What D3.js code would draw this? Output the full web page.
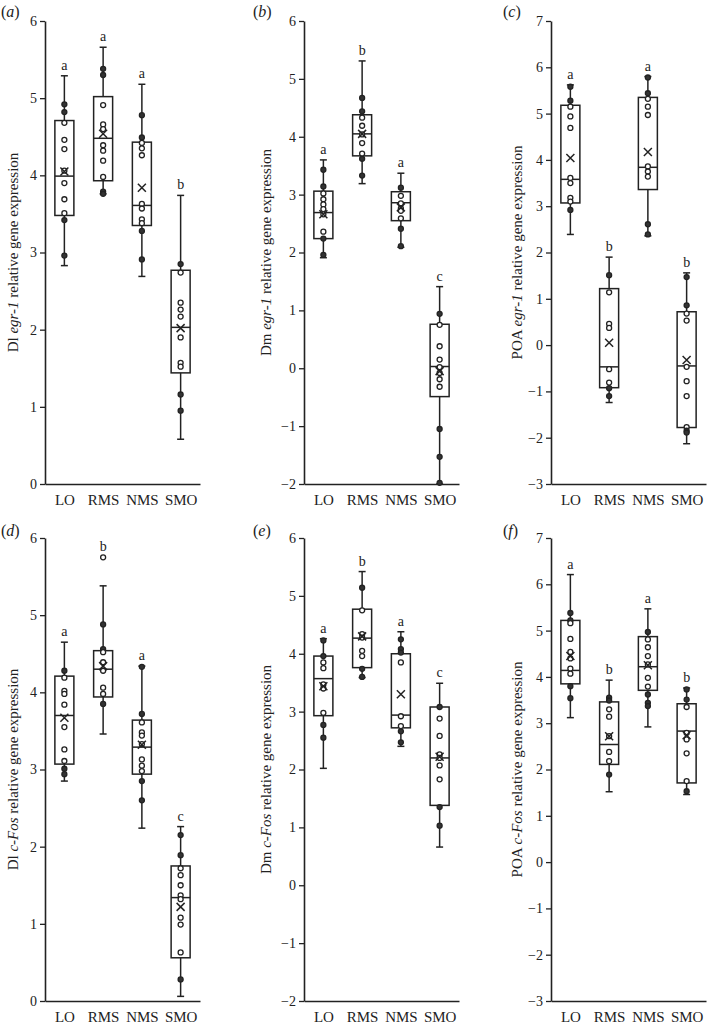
<!DOCTYPE html>
<html>
<head>
<meta charset="utf-8">
<script src="https://cdn.jsdelivr.net/npm/d3@7"></script>
<style>
  body { margin: 0; background: #fff; }
  text { font-family: "Liberation Serif", "Times New Roman", serif; fill: #222; }
</style>
</head>
<body>
<div id="chart"></div>
<script>
// groups on the x axis
const groups = ["LO", "RMS", "NMS", "SMO"];

// one entry per panel (a)-(f)
const panelTags = ["a", "b", "c", "d", "e", "f"];
const regions = ["Dl", "Dm", "POA", "Dl", "Dm", "POA"];
const genes = ["egr-1", "egr-1", "egr-1", "c-Fos", "c-Fos", "c-Fos"];
const yDomains = [[0, 6], [-2, 6], [-3, 7], [0, 6], [-2, 6], [-3, 7]];
const letters = [
  ["a", "a", "a", "b"],
  ["a", "b", "a", "c"],
  ["a", "b", "a", "b"],
  ["a", "b", "a", "c"],
  ["a", "b", "a", "c"],
  ["a", "b", "a", "b"]
];

// box statistics, [panel][group]
const whiskerLow = [
  [2.83, 3.76, 2.69, 0.58],
  [1.91, 3.19, 2.09, -2.0],
  [2.39, -1.24, 2.36, -2.13],
  [2.85, 3.46, 2.24, 0.06],
  [2.02, 3.59, 2.40, 0.66],
  [3.12, 1.52, 2.92, 1.46]
];
const q1 = [
  [3.48, 3.93, 3.35, 1.44],
  [2.24, 3.67, 2.55, -0.49],
  [3.07, -0.92, 3.36, -1.78],
  [3.07, 3.94, 2.94, 0.56],
  [2.93, 3.76, 2.72, 1.38],
  [3.85, 2.11, 3.71, 1.71]
];
const medians = [
  [3.99, 4.48, 3.61, 2.03],
  [2.69, 4.05, 2.86, 0.03],
  [3.58, -0.47, 3.84, -0.45],
  [3.70, 4.30, 3.29, 1.34],
  [3.57, 4.27, 2.94, 2.20],
  [4.14, 2.54, 4.22, 2.83]
];
const q3 = [
  [4.71, 5.02, 4.43, 2.77],
  [3.06, 4.38, 3.05, 0.76],
  [5.18, 1.22, 5.35, 0.72],
  [4.21, 4.54, 3.64, 1.75],
  [3.96, 4.77, 4.00, 3.08],
  [5.22, 3.46, 4.87, 3.42]
];
const whiskerHigh = [
  [5.29, 5.66, 5.18, 3.74],
  [3.60, 5.31, 3.37, 1.41],
  [5.62, 1.90, 5.80, 1.56],
  [4.65, 5.38, 4.34, 2.26],
  [4.26, 5.42, 4.38, 3.49],
  [6.21, 3.93, 5.47, 3.76]
];
const means = [
  [4.05, 4.54, 3.84, 2.02],
  [2.66, 4.05, 2.78, -0.05],
  [4.04, 0.05, 4.17, -0.32],
  [3.67, 4.34, 3.32, 1.22],
  [3.44, 4.30, 3.30, 2.22],
  [4.45, 2.72, 4.25, 2.74]
];
const points = [
  [
    [4.92, 4.82, 4.68, 4.46, 4.34, 4.06, 3.90, 3.69, 3.51, 3.42, 2.96],
    [5.38, 5.30, 4.91, 4.66, 4.60, 4.39, 4.32, 4.19, 3.98, 3.79, 3.76],
    [4.78, 4.49, 4.42, 4.35, 4.26, 3.63, 3.57, 3.43, 3.38, 3.28, 2.91],
    [2.85, 2.74, 2.35, 2.26, 2.17, 1.90, 1.57, 1.52, 1.16, 0.95]
  ],
  [
    [3.43, 3.14, 3.02, 2.92, 2.83, 2.75, 2.66, 2.36, 2.24, 1.96],
    [4.67, 4.44, 4.33, 4.19, 4.04, 3.89, 3.71, 3.62, 3.33],
    [3.12, 2.98, 2.85, 2.76, 2.72, 2.59, 2.41, 2.11],
    [0.94, 0.75, 0.38, 0.15, 0.02, -0.08, -0.19, -0.32, -1.05, -1.53, -1.98]
  ],
  [
    [5.58, 5.28, 5.15, 4.94, 4.69, 3.61, 3.50, 3.18, 3.10, 2.92],
    [1.51, 1.14, 0.46, 0.37, -0.52, -0.81, -0.93, -1.10],
    [5.78, 5.44, 5.32, 5.15, 4.97, 3.86, 3.75, 3.64, 2.61, 2.39],
    [1.47, 0.86, 0.68, 0.53, -0.47, -0.78, -1.10, -1.77, -1.85, -1.89]
  ],
  [
    [4.28, 4.19, 4.02, 3.98, 3.84, 3.55, 3.26, 3.11, 3.01, 2.94],
    [5.75, 4.88, 4.56, 4.52, 4.39, 4.28, 4.06, 3.98, 3.85],
    [4.33, 3.72, 3.61, 3.48, 3.44, 3.33, 3.13, 3.05, 2.98, 2.85, 2.60],
    [2.15, 1.89, 1.72, 1.63, 1.50, 1.37, 1.32, 1.08, 0.99, 0.63, 0.28]
  ],
  [
    [4.23, 3.96, 3.85, 3.75, 3.47, 3.40, 2.98, 2.77, 2.55],
    [5.14, 4.75, 4.34, 4.28, 4.05, 3.96, 3.74, 3.60],
    [4.25, 4.08, 4.02, 3.85, 2.92, 2.75, 2.66, 2.47],
    [3.08, 2.88, 2.58, 2.26, 2.20, 2.07, 1.83, 1.35, 1.03]
  ],
  [
    [5.38, 5.22, 5.16, 4.82, 4.54, 4.40, 4.18, 4.07, 3.80, 3.54],
    [3.55, 3.49, 3.30, 3.14, 2.72, 2.38, 2.18, 1.89],
    [4.97, 4.81, 4.64, 4.45, 4.27, 3.98, 3.79, 3.62, 3.44, 3.37],
    [3.73, 3.51, 3.35, 2.79, 2.65, 2.35, 1.75, 1.53]
  ]
];

// layout
const width = 708, height = 1026;
const ink = "#222";
const axisX = [45, 304, 551];
const labelX = [18, 271, 522];
const tagX = [1, 253, 503];
const plotW = 155;
const rows = [[21, 484], [538, 1001]];
const tagY = [17, 536];
const boxW = 19, capW = 7, r = 2.5;

const svg = d3.select("#chart").append("svg")
  .attr("width", width)
  .attr("height", height);

panelTags.forEach((tag, i) => {
  const col = i % 3, row = Math.floor(i / 3);
  const x0 = axisX[col];
  const [top, bottom] = rows[row];
  const dom = yDomains[i];

  const x = d3.scalePoint().domain(groups).range([x0, x0 + plotW]).padding(0.5);
  const y = d3.scaleLinear().domain(dom).range([bottom, top]);

  const g = svg.append("g");

  // y axis
  const yAx = g.append("g")
    .attr("transform", `translate(${x0},0)`)
    .call(d3.axisLeft(y)
      .tickValues(d3.range(dom[0], dom[1] + 1))
      .tickFormat(d3.format("d"))
      .tickSize(5)
      .tickSizeOuter(0)
      .tickPadding(3));

  // x axis
  const xAx = g.append("g")
    .attr("transform", `translate(0,${bottom})`)
    .call(d3.axisBottom(x).tickSize(0).tickSizeOuter(0).tickPadding(10));

  [yAx, xAx].forEach(ax => {
    ax.select(".domain").attr("stroke", ink).attr("stroke-width", 1.6);
    ax.selectAll(".tick line").attr("stroke", ink).attr("stroke-width", 1.3);
    ax.selectAll("text").attr("fill", ink).style("font-family", '"Liberation Serif", serif');
  });
  yAx.selectAll("text").attr("font-size", 14);
  xAx.selectAll("text").attr("font-size", 15);

  // y label
  const lab = g.append("text")
    .attr("transform", `translate(${labelX[col]},${(top + bottom) / 2}) rotate(-90)`)
    .attr("text-anchor", "middle")
    .attr("font-size", 15);
  lab.append("tspan").text(regions[i] + " ");
  lab.append("tspan").attr("font-style", "italic").text(genes[i]);
  lab.append("tspan").text(" relative gene expression");

  // panel tag
  const t = g.append("text")
    .attr("x", tagX[col])
    .attr("y", tagY[row])
    .attr("font-size", 16);
  t.append("tspan").text("(");
  t.append("tspan").attr("font-style", "italic").text(tag);
  t.append("tspan").text(")");

  groups.forEach((grp, j) => {
    const cx = x(grp);
    const lo = whiskerLow[i][j], hi = whiskerHigh[i][j];
    const a = q1[i][j], b = q3[i][j];
    const bx = g.append("g").attr("stroke", ink).attr("stroke-width", 1.5);

    // whisker and caps
    bx.append("line").attr("x1", cx).attr("x2", cx).attr("y1", y(lo)).attr("y2", y(hi));
    [lo, hi].forEach(v => bx.append("line")
      .attr("x1", cx - capW / 2).attr("x2", cx + capW / 2)
      .attr("y1", y(v)).attr("y2", y(v)));

    // box
    bx.append("rect")
      .attr("x", cx - boxW / 2)
      .attr("width", boxW)
      .attr("y", y(b))
      .attr("height", y(a) - y(b))
      .attr("fill", "#fff");

    // median
    bx.append("line")
      .attr("x1", cx - boxW / 2).attr("x2", cx + boxW / 2)
      .attr("y1", y(medians[i][j])).attr("y2", y(medians[i][j]));

    // points
    bx.selectAll("circle")
      .data(points[i][j])
      .join("circle")
      .attr("cx", cx)
      .attr("cy", d => y(d))
      .attr("r", r)
      .attr("stroke-width", 1.3)
      .attr("fill", d => ((d >= b || d <= a) && d <= hi && d >= lo) ? "#333" : "#fff");

    // mean marker
    const my = y(means[i][j]), s = 4;
    bx.append("path")
      .attr("d", `M${cx - s},${my - s}L${cx + s},${my + s}M${cx - s},${my + s}L${cx + s},${my - s}`)
      .attr("fill", "none");

    // significance letter
    const topV = Math.max(hi, d3.max(points[i][j]));
    g.append("text")
      .attr("x", cx)
      .attr("y", y(topV) - 6)
      .attr("text-anchor", "middle")
      .attr("font-size", 14)
      .text(letters[i][j]);
  });
});
</script>
</body>
</html>
